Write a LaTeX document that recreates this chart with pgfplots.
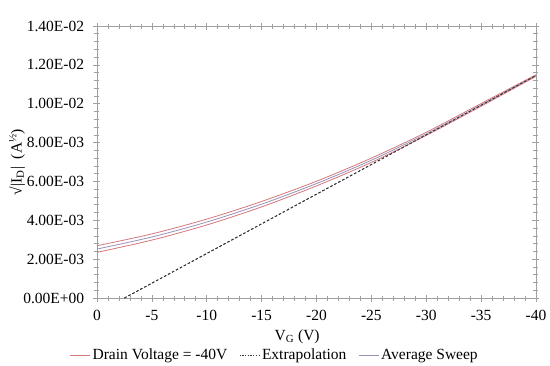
\documentclass[border=0pt]{standalone}
\usepackage{pgfplots}
\pgfplotsset{compat=1.18}
\usepackage{fontspec}
\setmainfont{Liberation Serif}
\definecolor{redline}{RGB}{212,118,124}
\definecolor{avgline}{RGB}{148,146,182}
\definecolor{axgray}{RGB}{160,160,160}
\begin{document}
\fontsize{15.5}{18}\selectfont
\begin{tikzpicture}
\begin{axis}[
  name=ax,
  scale only axis,
  width=439pt, height=272pt,
  x dir=reverse,
  xmin=-40, xmax=0,
  ymin=0, ymax=0.014,
  xtick={0,-5,-10,-15,-20,-25,-30,-35,-40},
  xticklabels={0,-5,-10,-15,-20,-25,-30,-35,-40},
  ytick={0,0.002,0.004,0.006,0.008,0.010,0.012,0.014},
  yticklabels={0.00E+00,2.00E-03,4.00E-03,6.00E-03,8.00E-03,1.00E-02,1.20E-02,1.40E-02},
  scaled y ticks=false,
  scaled x ticks=false,
  minor x tick num=4,
  minor y tick num=4,
  tick align=center,
  major tick length=7pt,
  minor tick length=5pt,
  axis line style={axgray, line width=0.8pt},
  every tick/.style={axgray, line width=0.6pt},
  tick label style={font=\fontsize{15.5}{18}\selectfont, black},
  xticklabel style={yshift=-3pt},
  yticklabel style={xshift=-4pt},
  xlabel={V\textsubscript{G} (V)},
  ylabel={√|I\textsubscript{D}|\ \ (A\textsuperscript{½})},
  every axis x label/.style={at={(axis description cs:0.456,-0.143)}, anchor=center, font=\fontsize{15.5}{18}\selectfont},
  every axis y label/.style={at={(axis description cs:-0.182,0.5)}, anchor=center, rotate=90, font=\fontsize{15.5}{18}\selectfont},
  legend columns=3,
  legend style={draw=none, fill=none, at={(axis description cs:0.405,-0.21)}, anchor=center,
    font=\fontsize{15.5}{18}\selectfont,
    /tikz/every even column/.append style={column sep=10pt}},
  legend image code/.code={\draw[#1] (0pt,0pt) -- (20pt,0pt);},
  clip=true,
]
% upper red sweep
\addplot[redline, line width=0.8pt, smooth] coordinates {
(0,0.00269) (-5,0.00330) (-10,0.00406) (-15,0.00497) (-20,0.00601) (-25,0.00720) (-30,0.00853) (-35,0.01001) (-40,0.01149)};
\addlegendentry{Drain Voltage = -40V}
% extrapolation (legend)
\addplot[black!80, line width=0.8pt, dash pattern=on 2.5pt off 2pt,
  legend image code/.code={\draw[black!80, line width=0.8pt, dash pattern=on 1.2pt off 1.5pt] (0pt,0pt) -- (20pt,0pt);}]
  coordinates {(-2.5,0) (-40,0.01145)};
\addlegendentry{Extrapolation}
% average sweep
\addplot[avgline, line width=0.8pt, smooth] coordinates {
(0,0.00252) (-5,0.00314) (-10,0.00391) (-15,0.00483) (-20,0.00589) (-25,0.00709) (-30,0.00845) (-35,0.00994) (-40,0.01145)};
\addlegendentry{Average Sweep}
% lower red sweep
\addplot[redline, line width=0.8pt, smooth, forget plot] coordinates {
(0,0.00235) (-5,0.00298) (-10,0.00376) (-15,0.00469) (-20,0.00577) (-25,0.00698) (-30,0.00837) (-35,0.00987) (-40,0.01141)};
% extrapolation on top
\addplot[black!80, line width=0.8pt, dash pattern=on 2.5pt off 2pt, forget plot] coordinates {(-2.5,0) (-40,0.01145)};
\end{axis}
\pgfresetboundingbox
\path[use as bounding box] (ax.south west) ++(-97pt,-67pt) rectangle ++(550pt,365pt);
\end{tikzpicture}
\end{document}
